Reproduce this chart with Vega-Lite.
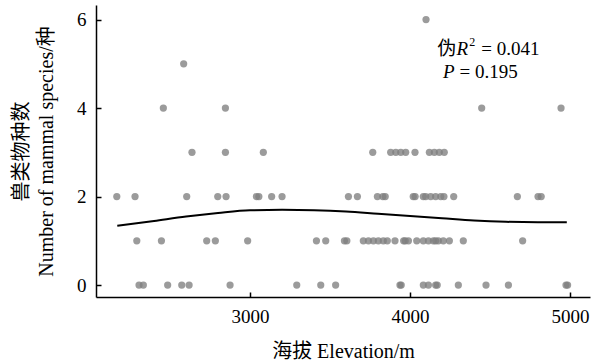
{
  "$schema": "https://vega.github.io/schema/vega-lite/v6.json",
  "width": 494,
  "height": 292,
  "autosize": {"type": "none"},
  "padding": {"left": 96, "top": 5, "right": 5, "bottom": 63},
  "config": {
    "view": {"stroke": null},
    "font": "Liberation Serif, Noto Sans CJK SC",
    "text": {"font": "Liberation Serif, Noto Sans CJK SC"},
    "axis": {
      "labelFont": "Liberation Serif",
      "titleFont": "Liberation Serif, Noto Sans CJK SC",
      "labelFontSize": 19,
      "titleFontSize": 20,
      "titleFontWeight": "normal",
      "labelColor": "#000000",
      "titleColor": "#000000",
      "domainColor": "#000000",
      "domainWidth": 1.5,
      "tickColor": "#000000",
      "tickWidth": 1.5,
      "tickSize": -5,
      "grid": false
    }
  },
  "datasets": {
    "pts": [
      {"elev": 4100, "n": 6},
      {"elev": 2585, "n": 5},
      {"elev": 2458, "n": 4}, {"elev": 2846, "n": 4}, {"elev": 4448, "n": 4}, {"elev": 4944, "n": 4},
      {"elev": 2637, "n": 3}, {"elev": 2846, "n": 3}, {"elev": 3083, "n": 3}, {"elev": 3767, "n": 3}, {"elev": 3879, "n": 3}, {"elev": 3911, "n": 3}, {"elev": 3942, "n": 3}, {"elev": 3973, "n": 3}, {"elev": 4031, "n": 3}, {"elev": 4121, "n": 3}, {"elev": 4152, "n": 3}, {"elev": 4183, "n": 3}, {"elev": 4214, "n": 3},
      {"elev": 2167, "n": 2}, {"elev": 2281, "n": 2}, {"elev": 2604, "n": 2}, {"elev": 2798, "n": 2}, {"elev": 2850, "n": 2}, {"elev": 3040, "n": 2}, {"elev": 3055, "n": 2}, {"elev": 3135, "n": 2}, {"elev": 3200, "n": 2}, {"elev": 3615, "n": 2}, {"elev": 3671, "n": 2}, {"elev": 3796, "n": 2}, {"elev": 3830, "n": 2}, {"elev": 3845, "n": 2}, {"elev": 4020, "n": 2}, {"elev": 4032, "n": 2}, {"elev": 4083, "n": 2}, {"elev": 4098, "n": 2}, {"elev": 4129, "n": 2}, {"elev": 4160, "n": 2}, {"elev": 4192, "n": 2}, {"elev": 4212, "n": 2}, {"elev": 4273, "n": 2}, {"elev": 4671, "n": 2}, {"elev": 4800, "n": 2}, {"elev": 4820, "n": 2},
      {"elev": 2292, "n": 1}, {"elev": 2446, "n": 1}, {"elev": 2729, "n": 1}, {"elev": 2783, "n": 1}, {"elev": 2985, "n": 1}, {"elev": 3415, "n": 1}, {"elev": 3473, "n": 1}, {"elev": 3590, "n": 1}, {"elev": 3605, "n": 1}, {"elev": 3708, "n": 1}, {"elev": 3740, "n": 1}, {"elev": 3771, "n": 1}, {"elev": 3802, "n": 1}, {"elev": 3833, "n": 1}, {"elev": 3858, "n": 1}, {"elev": 3906, "n": 1}, {"elev": 3960, "n": 1}, {"elev": 3970, "n": 1}, {"elev": 3990, "n": 1}, {"elev": 4042, "n": 1}, {"elev": 4083, "n": 1}, {"elev": 4115, "n": 1}, {"elev": 4146, "n": 1}, {"elev": 4160, "n": 1}, {"elev": 4177, "n": 1}, {"elev": 4208, "n": 1}, {"elev": 4246, "n": 1}, {"elev": 4333, "n": 1}, {"elev": 4704, "n": 1},
      {"elev": 2306, "n": 0}, {"elev": 2333, "n": 0}, {"elev": 2485, "n": 0}, {"elev": 2573, "n": 0}, {"elev": 2619, "n": 0}, {"elev": 2875, "n": 0}, {"elev": 3292, "n": 0}, {"elev": 3442, "n": 0}, {"elev": 3535, "n": 0}, {"elev": 3937, "n": 0}, {"elev": 3945, "n": 0}, {"elev": 4083, "n": 0}, {"elev": 4115, "n": 0}, {"elev": 4160, "n": 0}, {"elev": 4170, "n": 0}, {"elev": 4302, "n": 0}, {"elev": 4475, "n": 0}, {"elev": 4615, "n": 0}, {"elev": 4975, "n": 0}, {"elev": 4985, "n": 0}
    ],
    "fit": [
      {"elev": 2170, "n": 1.34}, {"elev": 2400, "n": 1.45}, {"elev": 2600, "n": 1.55}, {"elev": 2800, "n": 1.63}, {"elev": 3000, "n": 1.69}, {"elev": 3200, "n": 1.70}, {"elev": 3400, "n": 1.69}, {"elev": 3600, "n": 1.66}, {"elev": 3800, "n": 1.61}, {"elev": 4000, "n": 1.56}, {"elev": 4200, "n": 1.51}, {"elev": 4400, "n": 1.46}, {"elev": 4600, "n": 1.43}, {"elev": 4800, "n": 1.42}, {"elev": 4980, "n": 1.42}
    ],
    "txtNormal": [
      {"elev": 4170, "n": 5.2, "t": "伪"},
      {"elev": 4445, "n": 5.2, "t": "= 0.041"},
      {"elev": 4310, "n": 4.68, "t": "= 0.195"}
    ],
    "txtItalic": [
      {"elev": 4290, "n": 5.2, "t": "R"},
      {"elev": 4206, "n": 4.68, "t": "P"}
    ],
    "txtSup": [
      {"elev": 4370, "n": 5.4, "t": "2"}
    ]
  },
  "encoding": {
    "x": {
      "field": "elev", "type": "quantitative",
      "scale": {"domain": [2037, 5125], "nice": false, "zero": false},
      "axis": {"values": [3000, 4000, 5000], "format": "d", "labelFont": "Liberation Serif", "title": "海拔 Elevation/m", "labelPadding": 15, "titlePadding": 15}
    },
    "y": {
      "field": "n", "type": "quantitative",
      "scale": {"domain": [-0.27, 6.33], "nice": false, "zero": false},
      "axis": {"values": [0, 2, 4, 6], "format": "d", "labelFont": "Liberation Serif", "title": ["兽类物种数", "Number of mammal species/种"], "labelPadding": 15, "titlePadding": 20, "titleLineHeight": 25}
    }
  },
  "layer": [
    {
      "data": {"name": "pts"},
      "mark": {"type": "circle", "size": 52, "color": "#7f7f7f", "opacity": 0.78}
    },
    {
      "data": {"name": "fit"},
      "mark": {"type": "line", "color": "#000000", "strokeWidth": 2, "interpolate": "monotone"}
    },
    {
      "data": {"name": "txtNormal"},
      "mark": {"type": "text", "align": "left", "baseline": "alphabetic", "fontSize": 19, "color": "#000000", "font": "Liberation Serif, Noto Sans CJK SC"},
      "encoding": {"text": {"field": "t"}}
    },
    {
      "data": {"name": "txtItalic"},
      "mark": {"type": "text", "align": "left", "baseline": "alphabetic", "fontSize": 19, "fontStyle": "italic", "color": "#000000", "font": "Liberation Serif"},
      "encoding": {"text": {"field": "t"}}
    },
    {
      "data": {"name": "txtSup"},
      "mark": {"type": "text", "align": "left", "baseline": "alphabetic", "fontSize": 12, "color": "#000000", "font": "Liberation Serif"},
      "encoding": {"text": {"field": "t"}}
    }
  ]
}
